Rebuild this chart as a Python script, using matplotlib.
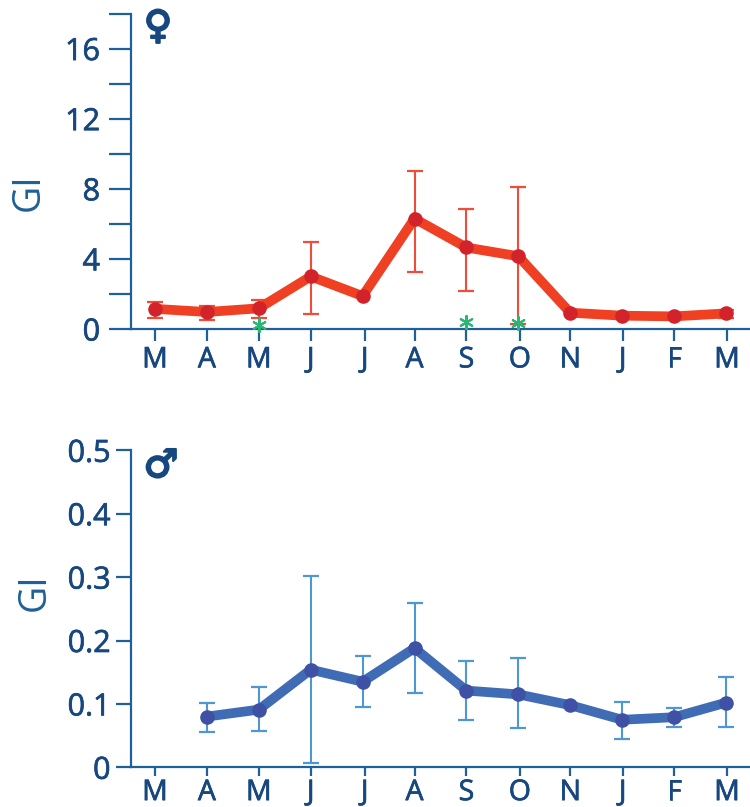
import matplotlib
matplotlib.use("Agg")
import matplotlib.pyplot as plt
import matplotlib.patheffects as pe
import numpy as np

plt.rcParams['font.family'] = ['Open Sans', 'DejaVu Sans']

months = ['M', 'A', 'M', 'J', 'J', 'A', 'S', 'O', 'N', 'J', 'F', 'M']
month_pos = [0, 1, 2, 3, 4.04, 5, 6, 7.03, 8, 9.01, 10, 11.02]

female_gi = [1.15, 0.97, 1.18, 3.00, 1.88, 6.30, 4.65, 4.15, 0.93, 0.76, 0.72, 0.89]
female_hi = [1.55, 1.30, 1.65, 4.98, np.nan, 9.02, 6.82, 8.08, np.nan, np.nan, np.nan, 1.10]
female_lo = [0.63, 0.50, 0.64, 0.85, np.nan, 3.25, 2.15, 0.30, np.nan, np.nan, np.nan, 0.65]
female_star_idx = [2, 6, 7]
female_star_y = [0.25, 0.42, 0.33]
female_major = [0, 4, 8, 12, 16]
female_labels = ['0', '4', '8', '12', '16']
female_minor = [2, 6, 10, 14, 18]

male_gi = [np.nan, 0.080, 0.091, 0.154, 0.135, 0.188, 0.121, 0.115, 0.098, 0.075, 0.079, 0.102]
male_hi = [np.nan, 0.102, 0.127, 0.301, 0.175, 0.259, 0.168, 0.173, np.nan, 0.103, 0.093, 0.143]
male_lo = [np.nan, 0.056, 0.057, 0.007, 0.095, 0.117, 0.074, 0.062, np.nan, 0.044, 0.064, 0.0635]
male_ticks = [0, 0.1, 0.2, 0.3, 0.4, 0.5]
male_labels = ['0', '0.1', '0.2', '0.3', '0.4', '0.5']

W, H = 750, 807
TEXT = '#17477f'
AXIS = '#1f6098'
x = np.arange(12)


def panel(top, bottom, ymin, ymax, vals, hi, lo, line_c, mark_c, err_c, ticklen, pad, xlabel_pad, xticklen):
    ax = fig.add_axes([131 / W, 1 - bottom / H, (W - 131) / W, (bottom - top) / H])
    ax.set_xlim(-0.462, 11.463)
    ax.set_ylim(ymin, ymax)
    ax.patch.set_alpha(0)
    for s in ('top', 'right'):
        ax.spines[s].set_visible(False)
    for s in ('left', 'bottom'):
        ax.spines[s].set_color(AXIS)
        ax.spines[s].set_linewidth(1.6)
    v, h, l = map(np.array, (vals, hi, lo))
    m = ~np.isnan(h)
    ax.errorbar(x[m], v[m], yerr=[v[m] - l[m], h[m] - v[m]], fmt='none', ecolor=err_c,
                elinewidth=1.5, capsize=6, capthick=1.6, zorder=2, clip_on=False)
    ax.plot(x, v, color=line_c, lw=7, solid_joinstyle='miter', solid_capstyle='butt', zorder=3, clip_on=False)
    ax.plot(x, v, ls='none', marker='o', ms=10.5, color=mark_c, mew=0, zorder=4, clip_on=False)
    ax.set_xticks(month_pos)
    ax.set_xticklabels(months)
    ax.tick_params(axis='x', length=xticklen, width=1.6, color=AXIS, labelcolor=TEXT,
                   labelsize=20.5, pad=xlabel_pad)
    ax.tick_params(axis='y', which='both', length=ticklen, width=1.6, color=AXIS, labelcolor=TEXT,
                   labelsize=22, pad=pad)
    return ax


def embolden(ax):
    for t in ax.get_xticklabels() + ax.get_yticklabels():
        t.set_path_effects([pe.withStroke(linewidth=0.5, foreground=TEXT)])


fig = plt.figure(figsize=(W / 100, H / 100), dpi=100, facecolor='white')

ax1 = panel(13.5, 329, 0, 18, female_gi, female_hi, female_lo,
            '#ef4023', '#d2232a', '#ef4c3a', 15.8, 6.5, 4, 8.5)
ax1.set_yticks(female_major)
ax1.set_yticklabels(female_labels)
ax1.set_yticks(female_minor, minor=True)
embolden(ax1)
ax1.scatter(female_star_idx, female_star_y, marker=(6, 2, 0), s=90, color='#2bb673',
            linewidths=1.5, zorder=5, clip_on=False)

ax2 = panel(450.3, 767.3, 0, 0.5, male_gi, male_hi, male_lo,
            '#3f6cb5', '#3f51a5', '#4f97d2', 10.8, 4, 2, 6.5)
ax2.set_yticks(male_ticks)
ax2.set_yticklabels(male_labels)
embolden(ax2)

fig.text(29 / W, 1 - 192 / H, 'GI', rotation=90, color=AXIS, fontsize=27, ha='center', va='center')
fig.text(35 / W, 1 - 592 / H, 'GI', rotation=90, color=AXIS, fontsize=27, ha='center', va='center')
sym = [pe.withStroke(linewidth=1.5, foreground=TEXT)]
fig.text(158 / W, 1 - 27 / H, '\u2640', color=TEXT, fontsize=28, fontweight='bold',
         family='DejaVu Sans', ha='center', va='center', path_effects=sym)
fig.text(161 / W, 1 - 466 / H, '\u2642', color=TEXT, fontsize=28, fontweight='bold',
         family='DejaVu Sans', ha='center', va='center', path_effects=sym)

fig.savefig('out.png', dpi=100)
